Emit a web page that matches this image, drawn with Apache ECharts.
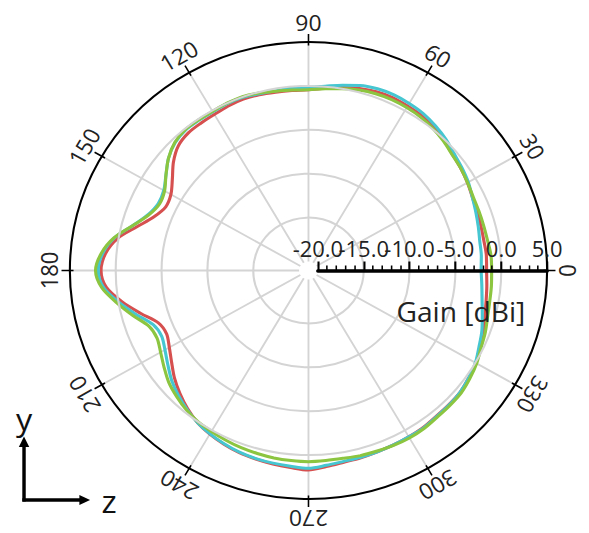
<!DOCTYPE html>
<html><head><meta charset="utf-8">
<script src="https://cdn.jsdelivr.net/npm/echarts@6/dist/echarts.min.js"></script>
<style>
html,body{margin:0;padding:0;background:#fff;overflow:hidden}
#wrap{width:589px;height:533px;overflow:hidden;position:relative}
#main{width:564px;height:533px;transform:scaleX(1.0443);transform-origin:0 0}
</style></head><body><div id="wrap"><div id="main"></div></div>
<script>
// Angles (deg) of the measured pattern
const angles = [0,5,10,15,20,25,30,35,40,45,50,55,60,65,70,75,80,85,90,95,100,105,110,115,120,125,130,135,140,145,150,155,160,165,170,175,180,185,190,195,200,205,210,215,220,225,230,235,240,245,250,255,260,265,270,275,280,285,290,295,300,305,310,315,320,325,330,335,340,345,350,355];
// Gain [dBi] per angle
const gainRed = [-1.6,-1.55,-1.6,-1.55,-1.45,-1.3,-1.0,-0.75,-0.5,-0.1,0.25,0.5,0.6,0.7,0.65,0.45,0.15,-0.2,-0.45,-0.45,-0.4,-0.3,-0.25,-0.35,-0.5,-0.55,-0.6,-0.95,-1.8,-2.9,-3.7,-3.85,-3.1,-1.7,0.1,1.2,1.6,1.1,-0.4,-2.1,-3.6,-3.95,-3.5,-2.8,-1.95,-1.2,-0.5,0.1,0.5,0.8,1.05,1.2,1.35,1.5,1.7,1.4,1.15,1.05,0.95,0.9,0.85,0.8,0.65,0.6,0.55,0.3,0.05,-0.4,-0.7,-1.1,-1.35,-1.5];
const gainCyan = [-2.2,-2.1,-2.05,-1.85,-1.6,-1.3,-0.9,-0.6,-0.3,0.15,0.5,0.8,0.95,1.05,1.0,0.8,0.4,0.05,-0.15,-0.2,-0.25,-0.2,-0.05,-0.05,-0.15,-0.15,-0.15,-0.45,-1.1,-2.05,-2.8,-2.95,-2.4,-1.2,0.45,1.5,1.9,1.4,-0.05,-1.6,-3.0,-3.35,-2.95,-2.3,-1.55,-0.95,-0.4,0.1,0.45,0.75,1.0,1.15,1.25,1.35,1.5,1.25,1.05,1.0,0.95,0.9,0.85,0.85,0.7,0.65,0.55,0.3,0.0,-0.5,-0.9,-1.4,-1.8,-2.05];
const gainGreen = [-1.05,-1.05,-1.2,-1.25,-1.25,-1.2,-1.0,-0.75,-0.55,-0.2,0.1,0.3,0.4,0.45,0.4,0.25,0.0,-0.25,-0.45,-0.4,-0.3,-0.1,0.05,0.0,-0.1,-0.1,-0.1,-0.4,-1.1,-2.05,-2.9,-3.1,-2.5,-1.2,0.5,1.65,2.2,1.6,0.2,-1.2,-2.5,-2.8,-2.4,-1.8,-1.15,-0.7,-0.3,0.0,0.15,0.3,0.45,0.55,0.65,0.7,0.75,0.7,0.7,0.8,0.85,0.95,1.0,0.95,0.8,0.75,0.7,0.45,0.15,-0.25,-0.5,-0.8,-0.95,-1.0];
// Tick labels
const angleTickValues = [0,30,60,90,120,150,180,210,240,270,300,330];
const angleTickLabels = ['0','30','60','90','120','150','180','210','240','270','300','330'];
const radiusTickValues = [-20,-15,-10,-5,0,5];
const radiusTickLabels = ['-20.0','-15.0','-10.0','-5.0','0.0','5.0'];
const radiusMin = -20, radiusMax = 5, radiusStep = 5;
const axisName = 'Gain [dBi]';

const FONT = 'Open Sans';
const LABEL_R = 7.2; // radial value where angle labels sit (outside the ring)

function closed(vals) {
  const d = angles.map((a, i) => [vals[i], a]);
  d.push([vals[0], 360]);
  return d;
}
function lineSeries(name, vals, color) {
  return {
    name, type: 'line', coordinateSystem: 'polar', data: closed(vals),
    showSymbol: false, symbol: 'none', smooth: 0.3, z: 3,
    lineStyle: { color, width: 3 }, silent: true
  };
}

const chart = echarts.init(document.getElementById('main'), null, { renderer: 'svg' });
chart.setOption({
  animation: false,
  backgroundColor: '#ffffff',
  polar: { center: [295.4, 270.5], radius: [9, 228.5] },
  angleAxis: {
    type: 'value', min: 0, max: 360, interval: 30, startAngle: 0, clockwise: false,
    axisLine: { show: false },
    axisTick: { show: true, length: 8, lineStyle: { color: '#000', width: 1.5 } },
    axisLabel: { show: false },
    splitLine: { show: true, lineStyle: { color: '#d4d4d4', width: 1.8 } }
  },
  radiusAxis: {
    type: 'value', min: radiusMin, max: radiusMax, interval: radiusStep, z: 5,
    axisLine: { show: true, lineStyle: { color: '#000', width: 3.5 } },
    axisTick: { show: true, length: 9, lineStyle: { color: '#000', width: 2 } },
    minorTick: { show: true, splitNumber: 5, length: 5, lineStyle: { color: '#000', width: 1.5 } },
    axisLabel: { show: false },
    splitLine: { show: true, lineStyle: { color: ['rgba(0,0,0,0)', '#d4d4d4', '#d4d4d4', '#d4d4d4', '#d4d4d4', '#000000'], width: 2 } }
  },
  series: [
    lineSeries('red', gainRed, '#d65050'),
    lineSeries('cyan', gainCyan, '#46c6d0'),
    lineSeries('green', gainGreen, '#8cc540'),
    {
      // angle tick labels, written along the ring
      type: 'custom', coordinateSystem: 'polar', silent: true, z: 6,
      data: angleTickValues.map(a => [LABEL_R, a]),
      renderItem: function (params, api) {
        const a = api.value(1);
        const p = api.coord([api.value(0), a]);
        return {
          type: 'text', x: p[0], y: p[1], rotation: (a - 90) * Math.PI / 180,
          style: { text: angleTickLabels[params.dataIndex], x: 0, y: 0, align: 'center', verticalAlign: 'middle',
                   fontSize: 22, fontFamily: FONT, fill: '#222' }
        };
      }
    },
    {
      // inner part of the angle ticks (they cross the ring)
      type: 'custom', coordinateSystem: 'polar', silent: true, z: 6,
      data: angleTickValues.map(a => [radiusMax, a]),
      renderItem: function (params, api) {
        const a = api.value(1);
        const p1 = api.coord([api.value(0), a]);
        const p0 = api.coord([api.value(0) - 0.4, a]);
        return { type: 'line', shape: { x1: p0[0], y1: p0[1], x2: p1[0], y2: p1[1] }, style: { stroke: '#000', lineWidth: 1.5 } };
      }
    },
    {
      // radius axis labels (all shown, overlapping as in the original)
      type: 'custom', coordinateSystem: 'polar', silent: true, z: 7,
      data: radiusTickValues.map(v => [v, 0]),
      renderItem: function (params, api) {
        const p = api.coord([api.value(0), api.value(1)]);
        return {
          type: 'text', x: p[0], y: p[1] - 22,
          style: { text: radiusTickLabels[params.dataIndex], x: 0, y: 0, align: 'center', verticalAlign: 'middle',
                   fontSize: 21, fontFamily: FONT, fill: '#222' }
        };
      }
    }
  ],
  graphic: [
    { type: 'text', x: 441.3, y: 311, z: 10, style: { text: axisName, align: 'center', verticalAlign: 'middle', fontSize: 27, fontFamily: FONT, fill: '#222' } },
    { type: 'line', shape: { x1: 23, y1: 501.5, x2: 23, y2: 446 }, style: { stroke: '#000', lineWidth: 3.3 } },
    { type: 'polygon', shape: { points: [[23, 436.5], [18, 447], [28, 447]] }, style: { fill: '#000' } },
    { type: 'line', shape: { x1: 21.4, y1: 500, x2: 78, y2: 500 }, style: { stroke: '#000', lineWidth: 3.3 } },
    { type: 'polygon', shape: { points: [[86.3, 500], [76, 495], [76, 505]] }, style: { fill: '#000' } },
    { type: 'text', x: 23, y: 418.5, style: { text: 'y', align: 'center', verticalAlign: 'middle', fontSize: 31, fontFamily: FONT, fill: '#111' } },
    { type: 'text', x: 104.4, y: 500.5, style: { text: 'z', align: 'center', verticalAlign: 'middle', fontSize: 31, fontFamily: FONT, fill: '#111' } }
  ]
});
</script></body></html>
